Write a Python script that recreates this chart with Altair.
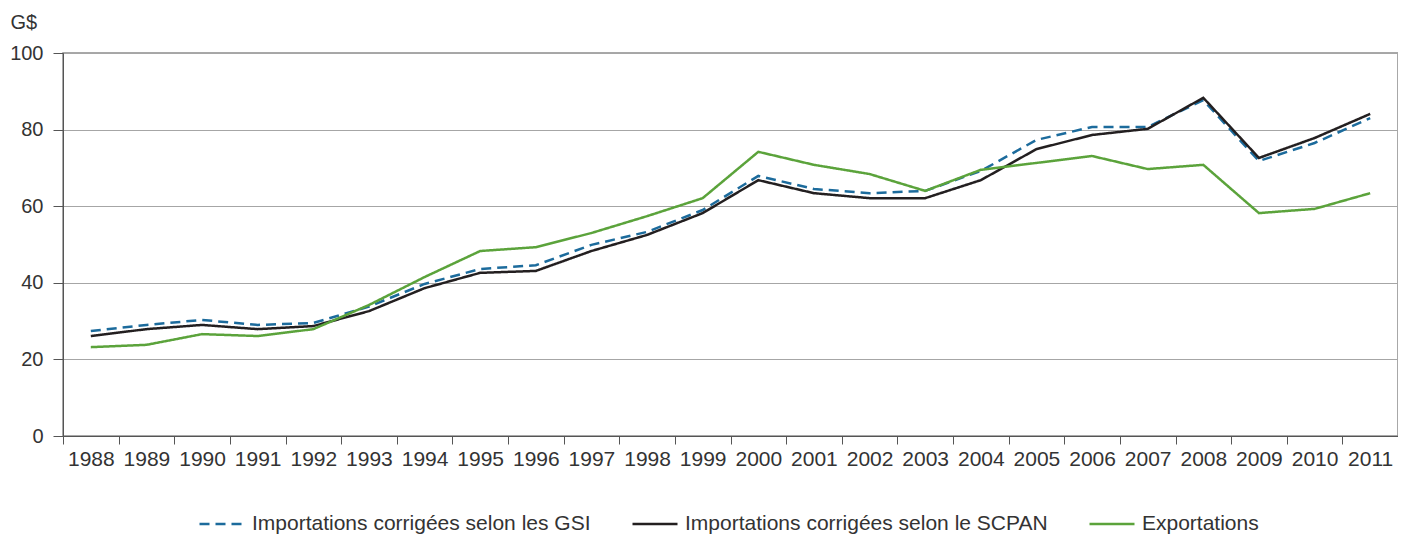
import altair as alt
import pandas as pd

years = [str(y) for y in range(1988, 2012)]

series_names = [
    "Importations corrigées selon les GSI",
    "Importations corrigées selon le SCPAN",
    "Exportations",
]

gsi = [27.4, 29.0, 30.3, 29.0, 29.5, 33.8, 39.7, 43.6, 44.6, 49.9, 53.3, 59.0,
       67.9, 64.5, 63.4, 64.0, 69.2, 77.3, 80.7, 80.7, 87.7, 71.8, 76.5, 83.0]
scpan = [26.1, 27.9, 29.0, 27.9, 28.7, 32.6, 38.6, 42.6, 43.1, 48.3, 52.5, 58.2,
         66.8, 63.4, 62.1, 62.1, 66.8, 74.9, 78.6, 80.2, 88.3, 72.6, 77.8, 84.1]
exportations = [23.2, 23.8, 26.6, 26.1, 27.9, 34.2, 41.5, 48.3, 49.3, 53.0, 57.4, 62.1,
                74.2, 70.8, 68.4, 64.0, 69.5, 71.3, 73.1, 69.7, 70.8, 58.2, 59.3, 63.4]

colors = ["#1c6b9c", "#231f20", "#5ba33b"]
dashes = [[10, 6], [1, 0], [1, 0]]

rows = []
for name, vals in zip(series_names, [gsi, scpan, exportations]):
    for y, v in zip(years, vals):
        rows.append({"Année": y, "Valeur": v, "Série": name})
df = pd.DataFrame(rows)

FONT = "Liberation Sans"

chart = (
    alt.Chart(df)
    .mark_line(strokeWidth=2.5)
    .encode(
        x=alt.X(
            "Année:O",
            sort=years,
            scale=alt.Scale(type="band", paddingInner=0, paddingOuter=0),
            bandPosition=0.5,
            axis=alt.Axis(
                title=None,
                tickBand="extent",
                labelAngle=0,
                tickSize=8,
                labelPadding=4,
                labelFontSize=21,
                labelFont=FONT,
                labelColor="#333333",
                domainColor="#555555",
                tickColor="#555555",
                grid=False,
            ),
        ),
        y=alt.Y(
            "Valeur:Q",
            scale=alt.Scale(domain=[0, 100], nice=False),
            axis=alt.Axis(
                values=[0, 20, 40, 60, 80, 100],
                title="G$",
                titleAngle=0,
                titleAlign="left",
                titleBaseline="alphabetic",
                titleX=-53,
                titleY=-25,
                titleFontSize=20,
                titleFontWeight="normal",
                titleFont=FONT,
                titleColor="#333333",
                tickSize=10,
                labelPadding=10,
                labelFontSize=20,
                labelFont=FONT,
                labelColor="#333333",
                domainColor="#555555",
                tickColor="#555555",
                gridColor="#a6a6a6",
                gridWidth=1,
            ),
        ),
        color=alt.Color(
            "Série:N",
            sort=series_names,
            scale=alt.Scale(domain=series_names, range=colors),
            title=None,
        ),
        strokeDash=alt.StrokeDash(
            "Série:N",
            sort=series_names,
            scale=alt.Scale(domain=series_names, range=dashes),
            title=None,
        ),
    )
    .properties(
        width=1335,
        height=383,
        autosize=alt.AutoSizeParams(type="none"),
        padding={"left": 55, "top": 45, "right": 0, "bottom": 100},
    )
    .configure_view(stroke="#8c8c8c", strokeWidth=1.5)
    .configure_legend(
        orient="none",
        legendX=135,
        legendY=447,
        direction="horizontal",
        symbolType="stroke",
        symbolSize=2025,
        symbolStrokeWidth=2.5,
        labelFontSize=21,
        labelFont=FONT,
        labelColor="#333333",
        labelLimit=600,
        labelOffset=6,
        columnPadding=36,
    )
)

chart.save("out.html", embed_options={"renderer": "svg", "actions": False})
